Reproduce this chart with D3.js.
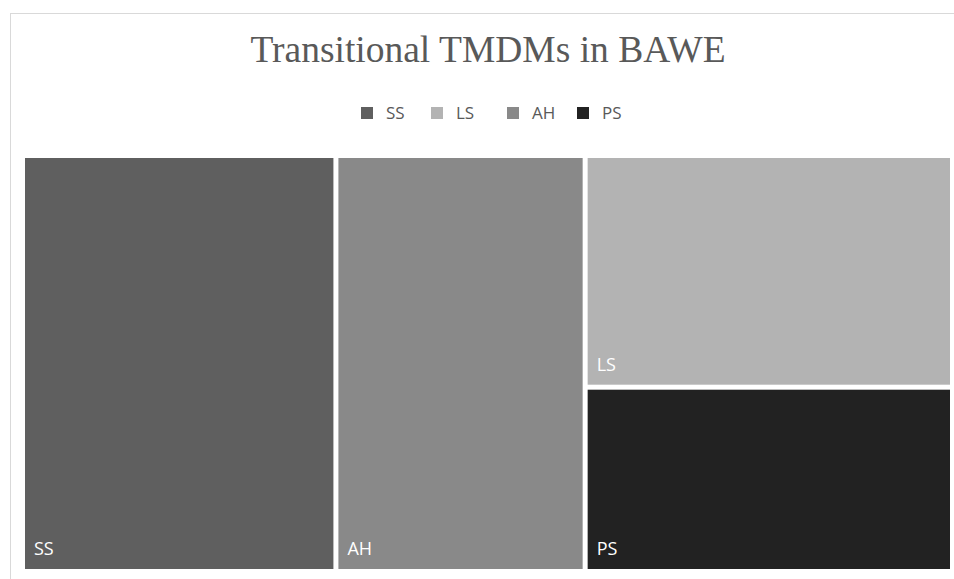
<!DOCTYPE html>
<html>
<head>
<meta charset="utf-8">
<script src="https://cdn.jsdelivr.net/npm/d3@7"></script>
<style>
  html, body { margin: 0; padding: 0; background: #fff; }
  svg { display: block; }
</style>
</head>
<body>
<svg id="chart" width="954" height="579"></svg>
<script>
// Category names in legend order, their shares and fills
const categories = ["SS", "LS", "AH", "PS"];
const values = [33.7, 22.0, 26.8, 17.5];
const colors = ["#5f5f5f", "#b3b3b3", "#898989", "#222222"];
const title = "Transitional TMDMs in BAWE";

const W = 954, H = 579;
const svg = d3.select("#chart");

// chart frame (right and bottom sides run past the view)
svg.append("rect")
  .attr("x", 10.5).attr("y", 13.5)
  .attr("width", W + 20).attr("height", H + 20)
  .attr("fill", "#fff").attr("stroke", "#d9d9d9").attr("stroke-width", 1);

// title
svg.append("text")
  .attr("x", 488).attr("y", 62)
  .attr("text-anchor", "middle")
  .attr("font-family", "'Liberation Serif', 'Times New Roman', serif")
  .attr("font-size", 37.5)
  .attr("fill", "#595959")
  .text(title);

// legend
const legendX = [361, 431, 507, 577];
const legend = svg.append("g");
categories.forEach((c, i) => {
  legend.append("rect")
    .attr("x", legendX[i]).attr("y", 107)
    .attr("width", 12).attr("height", 12)
    .attr("fill", colors[i]);
  legend.append("text")
    .attr("x", legendX[i] + 25).attr("y", 119)
    .attr("font-family", "'Open Sans', 'Noto Sans', sans-serif")
    .attr("font-size", 17)
    .attr("fill", "#595959")
    .text(c);
});

// treemap
const color = d3.scaleOrdinal().domain(categories).range(colors);
const root = d3.hierarchy({ children: categories.map((c, i) => ({ name: c, value: values[i] })) })
  .sum(d => d.value || 0)
  .sort((a, b) => b.value - a.value);

const gap = 5;
d3.treemap()
  .tile(d3.treemapSquarify.ratio(1))
  .size([925 + gap, 411 + gap])
  .round(false)(root);

const plot = svg.append("g").attr("transform", `translate(${25 - gap / 2},${158 - gap / 2})`);
const cell = plot.selectAll("g")
  .data(root.leaves())
  .join("g")
  .attr("transform", d => `translate(${d.x0 + gap / 2},${d.y0 + gap / 2})`);

cell.append("rect")
  .attr("width", d => d.x1 - d.x0 - gap)
  .attr("height", d => d.y1 - d.y0 - gap)
  .attr("fill", d => color(d.data.name));

cell.append("text")
  .attr("x", 9)
  .attr("y", d => d.y1 - d.y0 - gap - 14)
  .attr("font-family", "'Open Sans', 'Noto Sans', sans-serif")
  .attr("font-size", 18)
  .attr("fill", "#ffffff")
  .text(d => d.data.name);
</script>
</body>
</html>
